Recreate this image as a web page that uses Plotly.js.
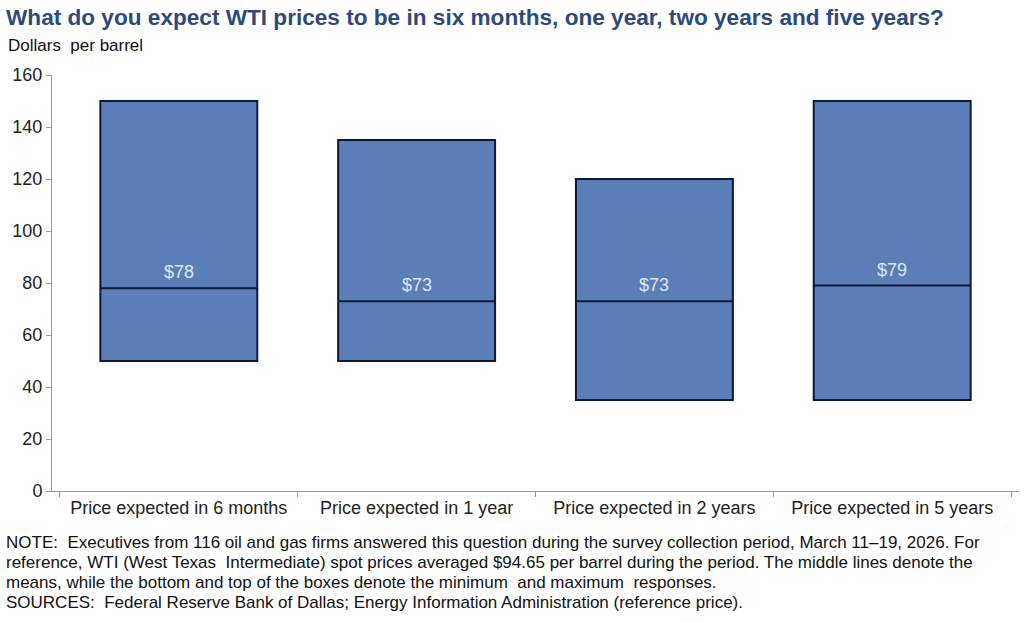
<!DOCTYPE html>
<html>
<head>
<meta charset="utf-8">
<script src="https://cdn.plot.ly/plotly-3.0.1.min.js"></script>
<style>
html,body{margin:0;padding:0;background:#fff;}
#chart{width:1024px;height:623px;}
</style>
</head>
<body>
<div id="chart"></div>
<script>
const categories = ["Price expected in 6 months", "Price expected in 1 year", "Price expected in 2 years", "Price expected in 5 years"];
const minValues = [50, 50, 35, 35];
const maxValues = [150, 135, 120, 150];
const meanValues = [78, 73, 73, 79];
const meanLabels = ["$78", "$73", "$73", "$79"];
const yTicks = [0, 20, 40, 60, 80, 100, 120, 140, 160];

const titleText = "What do you expect WTI prices to be in six months, one year, two years and five years?";
const unitText = "Dollars  per barrel";
const noteLines = [
  "NOTE:  Executives from 116 oil and gas firms answered this question during the survey collection period, March 11–19, 2026. For",
  "reference, WTI (West Texas  Intermediate) spot prices averaged $94.65 per barrel during the period. The middle lines denote the",
  "means, while the bottom and top of the boxes denote the minimum  and maximum  responses.",
  "SOURCES:  Federal Reserve Bank of Dallas; Energy Information Administration (reference price)."
];

const FONT = "Liberation Sans, Arial, sans-serif";

const boxTrace = {
  type: "box",
  x: categories,
  q1: minValues,
  median: meanValues,
  q3: maxValues,
  lowerfence: minValues,
  upperfence: maxValues,
  width: 0.66,
  fillcolor: "#5A7FB8",
  line: {color: "#0E1A33", width: 2},
  whiskerwidth: 0,
  hoverinfo: "skip",
  showlegend: false
};

const plotH = 623 - 75 - 132;
function pyToPaper(py){ return (623 - 132 - py) / plotH; }
function pxToPaper(px){ return (px - 52) / (1024 - 52 - 5); }

const annotations = [
  {text: "<b>" + titleText + "</b>", xref: "paper", yref: "paper", x: pxToPaper(4), y: pyToPaper(17), xanchor: "left", yanchor: "middle",
   showarrow: false, font: {family: FONT, size: 22.6, color: "#2E4A7D"}},
  {text: unitText, xref: "paper", yref: "paper", x: pxToPaper(6), y: pyToPaper(46), xanchor: "left", yanchor: "middle",
   showarrow: false, font: {family: FONT, size: 17, color: "#111"}}
];
noteLines.forEach(function(line, i){
  annotations.push({text: line, xref: "paper", yref: "paper", x: pxToPaper(4), y: pyToPaper(542 + i * 20.3), xanchor: "left", yanchor: "middle",
    showarrow: false, font: {family: FONT, size: 17, color: "#111"}});
});
categories.forEach(function(c, i){
  annotations.push({text: meanLabels[i], xref: "x", yref: "y", x: c, y: meanValues[i], xanchor: "center", yanchor: "bottom",
    yshift: 4, showarrow: false, font: {family: FONT, size: 18, color: "#DCE4F2"}});
});

const layout = {
  width: 1024, height: 623,
  margin: {l: 52, r: 5, t: 75, b: 132},
  paper_bgcolor: "#fff", plot_bgcolor: "#fff",
  xaxis: {
    type: "category",
    showline: true, linecolor: "#9a9a9a", linewidth: 1,
    ticks: "outside", ticklen: 5, tickcolor: "#9a9a9a", tickson: "boundaries",
    tickfont: {family: FONT, size: 18, color: "#222"},
    showgrid: false, zeroline: false, fixedrange: true
  },
  yaxis: {
    range: [0, 160], tickvals: yTicks, ticktext: yTicks.map(String),
    showline: true, linecolor: "#9a9a9a", linewidth: 1,
    ticks: "outside", ticklen: 5, tickcolor: "#9a9a9a",
    tickfont: {family: FONT, size: 18, color: "#222"},
    showgrid: false, zeroline: false, fixedrange: true
  },
  annotations: annotations
};

Plotly.newPlot("chart", [boxTrace], layout, {displayModeBar: false, staticPlot: true});
</script>
</body>
</html>
